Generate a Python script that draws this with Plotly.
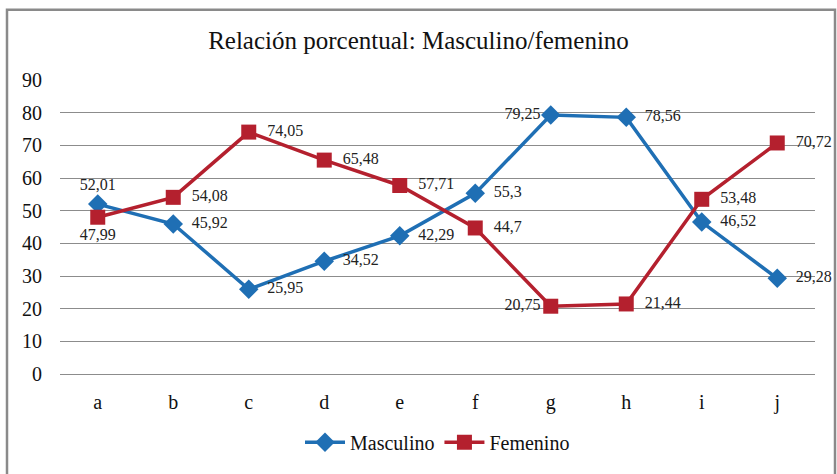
import plotly.graph_objects as go

categories = ["a", "b", "c", "d", "e", "f", "g", "h", "i", "j"]
masculino = [52.01, 45.92, 25.95, 34.52, 42.29, 55.3, 79.25, 78.56, 46.52, 29.28]
femenino = [47.99, 54.08, 74.05, 65.48, 57.71, 44.7, 20.75, 21.44, 53.48, 70.72]
y_ticks = [0, 10, 20, 30, 40, 50, 60, 70, 80, 90]

def fmt(v):
    s = ("%.2f" % v).rstrip("0").rstrip(".")
    return s.replace(".", ",")

pos_m = ["top center", "middle right", "middle right", "middle right", "middle right",
         "middle right", "middle left", "middle right", "middle right", "middle right"]
pos_f = ["bottom center", "middle right", "middle right", "middle right", "middle right",
         "middle right", "middle left", "middle right", "middle right", "middle right"]

def pad(v, p):
    t = fmt(v)
    if p == "middle right":
        return "\u2002" + t
    return t

BLUE = "#1F6FB4"
RED = "#B4202E"
FONT = "'Liberation Serif', 'Times New Roman', serif"

fig = go.Figure()
fig.add_trace(go.Scatter(
    x=categories, y=masculino, name="Masculino", mode="lines+markers+text",
    line=dict(color=BLUE, width=3.5),
    marker=dict(symbol="diamond", size=15, color=BLUE),
    text=[pad(v, p) for v, p in zip(masculino, pos_m)], textposition=pos_m,
    textfont=dict(family=FONT, size=16, color="#222"), cliponaxis=False,
))
fig.add_trace(go.Scatter(
    x=categories, y=femenino, name="Femenino", mode="lines+markers+text",
    line=dict(color=RED, width=3.5),
    marker=dict(symbol="square", size=15, color=RED),
    text=[pad(v, p) for v, p in zip(femenino, pos_f)], textposition=pos_f,
    textfont=dict(family=FONT, size=16, color="#222"), cliponaxis=False,
))

W, H = 837, 474
L, R, T, B = 60, 22, 80, 93
pw, ph = W - L - R, H - T - B

def px_x(p):
    return (p - L) / pw

def px_y(p):
    return (H - B - p) / ph

fig.add_shape(type="rect", xref="paper", yref="paper",
              x0=px_x(7), x1=px_x(835), y0=px_y(500), y1=px_y(8),
              line=dict(color="#8a8a8a", width=2.5), fillcolor="rgba(0,0,0,0)",
              layer="below")

fig.update_layout(
    width=W, height=H,
    margin=dict(l=L, r=R, t=T, b=B),
    paper_bgcolor="white", plot_bgcolor="white",
    title=dict(text="Relación porcentual: Masculino/femenino", x=0.5, xanchor="center",
               y=1 - 40 / H, yanchor="middle",
               font=dict(family=FONT, size=25, color="#111")),
    font=dict(family=FONT, color="#111"),
    xaxis=dict(type="category", range=[-0.5, 9.5], showgrid=False, showline=False,
               ticks="", tickfont=dict(family=FONT, size=20, color="#111"), ticklabelstandoff=14),
    yaxis=dict(range=[0, 90], tickvals=y_ticks, showgrid=True, gridcolor="#8c8c8c",
               gridwidth=1, zeroline=True, zerolinecolor="#8c8c8c", zerolinewidth=1,
               ticks="", tickfont=dict(family=FONT, size=20, color="#111"), ticklabelstandoff=17),
    showlegend=True,
    legend=dict(orientation="h", x=0.5, xanchor="center", y=px_y(451), yanchor="middle",
                font=dict(family=FONT, size=20, color="#111"), itemwidth=40),
)

fig.write_html("out.html", config={"displayModeBar": False},
               post_script="document.body.style.margin='0';")
